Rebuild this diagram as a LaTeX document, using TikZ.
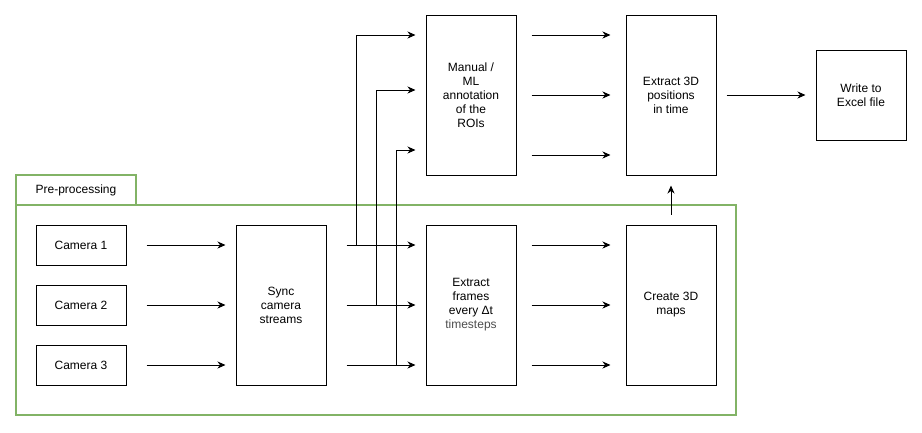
\documentclass[tikz,border=0pt]{standalone}
\usepackage{fontspec}
\setmainfont{Liberation Sans}
\usetikzlibrary{arrows.meta,shapes}
\definecolor{groupgreen}{HTML}{82B366}
\definecolor{softtext}{HTML}{4D4D4D}
\tikzstyle{block}=[draw,line width=1pt,minimum width=90pt,inner sep=2pt,align=center,font=\fontsize{12}{14}\selectfont]
\tikzstyle{tall}=[block,minimum height=160pt]
\tikzstyle{short}=[block,minimum height=40pt]
\tikzstyle{group}=[draw=groupgreen,line width=2pt,inner sep=0pt]
\tikzstyle{flow}=[draw,line width=1pt,-{Stealth[length=8pt,width=7pt,inset=2.5pt]}]

\begin{document}
\begin{tikzpicture}[x=1pt,y=-1pt]
    \useasboundingbox (0,0) rectangle (922,432);
    % First we draw the pre-processing group
    \node[group,minimum width=720pt,minimum height=210pt] (prep) at (376,310) {};
    \node[group,minimum width=120pt,minimum height=30pt,font=\fontsize{12}{14}\selectfont] (tab) at (76,190) {Pre-processing};
    % Then the blocks
    \foreach \pos/\name/\text in {{(81,245)/cam1/Camera 1}, {(81,305)/cam2/Camera 2}, {(81,365)/cam3/Camera 3}}
        \node[short] (\name) at \pos {\text};
    \node[block,minimum height=90pt] (excel) at (861,95) {Write to\\Excel file};
    \foreach \pos/\name/\text in {{(281,305)/sync/{Sync\\camera\\streams}}, {(471,305)/frames/{Extract\\frames\\every Δt\\\textcolor{softtext}{timesteps}}}, {(671,305)/maps/{Create 3D\\maps}}, {(471,95)/manual/{Manual /\\ML\\annotation\\of the\\ROIs}}, {(671,95)/pos3d/{Extract 3D\\positions\\in time}}}
        \node[tall] (\name) at \pos {\text};
    % Split points on the sync outputs
    \coordinate (split1) at (356,245);
    \coordinate (split2) at (376,305);
    \coordinate (split3) at (396,365);
    % Connect blocks with arrows
    \foreach \cam in {cam1,cam2,cam3} {
        \path[flow,shorten <=20pt,shorten >=10pt] (\cam.east) -- (sync.west |- \cam);
        \path[flow,shorten <=20pt,shorten >=10pt] (sync.east |- \cam) -- (frames.west |- \cam);
        \path[flow,shorten <=15pt,shorten >=15pt] (frames.east |- \cam) -- (maps.west |- \cam);
    }
    \foreach \dy in {-60,0,60}
        \path[flow,shorten <=15pt,shorten >=15pt] ([yshift=\dy pt]manual.east) -- ([yshift=\dy pt]pos3d.west);
    \foreach \split/\dy in {split1/60, split2/5, split3/-55}
        \path[flow] (\split) |- ([xshift=-10pt,yshift=\dy pt]manual.west);
    \path[flow,shorten <=10pt,shorten >=10pt] (maps.north) -- (pos3d.south);
    \path[flow,shorten <=10pt,shorten >=10pt] (pos3d.east) -- (excel.west);
\end{tikzpicture}
\end{document}
